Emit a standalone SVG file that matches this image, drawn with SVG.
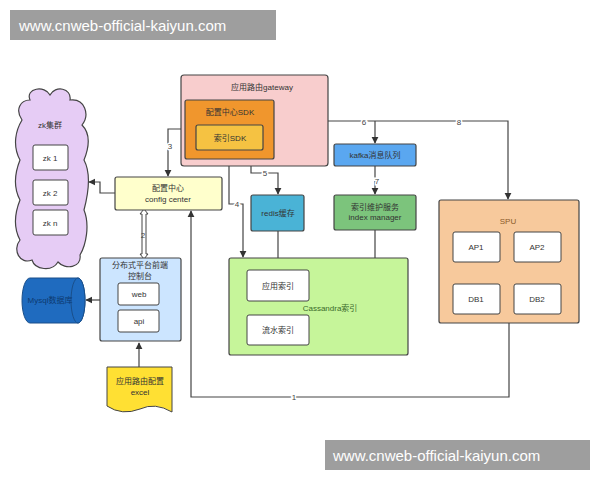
<svg xmlns="http://www.w3.org/2000/svg" width="600" height="480" viewBox="0 0 600 480">
<defs>
<marker id="ah" viewBox="0 0 10 10" refX="9" refY="5" markerWidth="6" markerHeight="6" orient="auto"><path d="M0,0L10,5L0,10z" fill="#333"/></marker>
<style>
text{font-family:"Liberation Sans","Noto Sans CJK SC",sans-serif;font-size:8px;fill:#333;text-anchor:middle}
.b{stroke:#444;stroke-width:1.2}
.w{fill:#fff;stroke:#444;stroke-width:1}
.c{fill:none;stroke:#444;stroke-width:1.2}
.a{marker-end:url(#ah)}
.wm{fill:#9e9e9e}
.wt{fill:#fff;font-size:15px;text-anchor:start}
.lb{font-size:8px;fill:#444}
</style>
</defs>
<rect width="600" height="480" fill="#fff"/>
<g id="connectors">
<path class="c a" d="M115,193H100V182H89"/>
<path class="c a" d="M185,129H168V176"/>
<text class="lb" x="170" y="149" style="fill:#444;paint-order:stroke;stroke:#fff;stroke-width:3px">3</text>
<path d="M140,214l4,-5l4,5h-2v40h2l-4,5l-4,-5h2v-40z" fill="#fff" stroke="#444"/>
<text class="lb" x="143" y="238">2</text>
<path class="c a" d="M100,300H86"/>
<path class="c a" d="M139,367V343"/>
<path class="c a" d="M509,323V397H191V211"/>
<text class="lb" x="294" y="400" style="paint-order:stroke;stroke:#fff;stroke-width:3px">1</text>
<path class="c a" d="M229,150V204H243V257"/>
<text class="lb" x="237" y="207" style="paint-order:stroke;stroke:#fff;stroke-width:3px">4</text>
<path class="c a" d="M251,150V173H278V194"/>
<text class="lb" x="265" y="176" style="paint-order:stroke;stroke:#fff;stroke-width:3px">5</text>
<path class="c a" d="M278,231V269"/>
<path class="c a" d="M328,121H508V199"/>
<path class="c a" d="M375,121V143"/>
<text class="lb" x="364" y="125" style="paint-order:stroke;stroke:#fff;stroke-width:3px">6</text>
<text class="lb" x="459" y="125" style="paint-order:stroke;stroke:#fff;stroke-width:3px">8</text>
<path class="c a" d="M375,166V194"/>
<text class="lb" x="377" y="184" style="paint-order:stroke;stroke:#fff;stroke-width:3px">7</text>
<path class="c a" d="M375,230V330H310"/>
<path class="c a" d="M476,262V283"/>
<path class="c a" d="M537,262V283"/>
</g>
<g id="gateway"><rect x="181" y="75" width="147" height="91" rx="3" fill="#f8cdcd" class="b"/><text x="262" y="90">应用路由gateway</text></g>
<g id="sdk"><rect x="185" y="100" width="89" height="59" rx="2" fill="#f0962d" class="b"/><text x="230" y="115">配置中心SDK</text></g>
<g id="idxsdk"><rect x="196" y="125" width="67" height="25" rx="2" fill="#f5c242" class="b"/><text x="230" y="141">索引SDK</text></g>
<g id="zk">
<path d="M30,100C25,88 45,85 50,95C55,85 72,88 70,100C85,98 90,115 82,125C92,135 88,150 84,160C92,175 88,195 84,210C90,225 86,245 80,255C82,268 65,270 58,262C52,272 35,270 32,260C20,265 12,250 20,240C12,225 16,210 20,200C12,185 16,170 20,160C12,145 16,130 22,120C15,110 20,100 30,100Z" fill="#e6ccf5" stroke="#444" stroke-width="1.2"/>
<text x="50" y="128">zk集群</text>
<rect x="33" y="145" width="35" height="25" rx="2" class="w"/><text x="50" y="161">zk 1</text>
<rect x="33" y="180" width="35" height="25" rx="2" class="w"/><text x="50" y="196">zk 2</text>
<rect x="33" y="210" width="35" height="25" rx="2" class="w"/><text x="50" y="226">zk n</text>
</g>
<g id="config"><rect x="115" y="177" width="107" height="33" rx="2" fill="#ffffcc" class="b"/><text x="168" y="191">配置中心</text><text x="168" y="202">config center</text></g>
<g id="platform"><rect x="100" y="258" width="81" height="83" rx="2" fill="#cce5ff" class="b"/><text x="140" y="268">分布式平台前端</text><text x="140" y="279">控制台</text>
<rect x="118" y="283" width="41" height="22" rx="2" class="w"/><text x="139" y="297">web</text>
<rect x="118" y="310" width="41" height="22" rx="2" class="w"/><text x="139" y="324">api</text></g>
<g id="mysql"><path d="M30,278H78A7,22.5 0 0 1 78,323H30A8,22.5 0 0 1 30,278Z" fill="#1f6bbf" stroke="#1a4f8a"/><ellipse cx="78" cy="300.5" rx="7" ry="22.5" fill="#1f6bbf" stroke="#1a4f8a"/><text x="50" y="303" style="fill:#0d3a70">Mysql数据库</text></g>
<g id="excel"><path d="M107,367H172V412Q155,402 140,409Q122,416 107,406Z" fill="#ffe033" stroke="#444"/><text x="140" y="384">应用路由配置</text><text x="140" y="395">excel</text></g>
<g id="redis"><rect x="251" y="195" width="53" height="36" rx="2" fill="#4ab3d6" class="b"/><text x="278" y="216">redis缓存</text></g>
<g id="kafka"><rect x="334" y="144" width="82" height="22" rx="2" fill="#5aa7f0" class="b"/><text x="375" y="158">kafka消息队列</text></g>
<g id="indexmgr"><rect x="334" y="195" width="82" height="35" rx="2" fill="#7cc47c" class="b"/><text x="375" y="210">索引维护服务</text><text x="375" y="220">index manager</text></g>
<g id="cassandra"><rect x="229" y="258" width="179" height="97" rx="2" fill="#c6f59a" class="b"/><text x="330" y="311" style="fill:#3a6a2a">Cassandra索引</text>
<rect x="247" y="270" width="62" height="31" rx="2" class="w"/><text x="278" y="289">应用索引</text>
<rect x="247" y="315" width="62" height="30" rx="2" class="w"/><text x="278" y="333">流水索引</text></g>
<g id="spu"><rect x="439" y="200" width="140" height="123" rx="2" fill="#f7c99c" class="b"/><text x="508" y="224" style="fill:#8a5a2a">SPU</text>
<rect x="453" y="232" width="47" height="30" rx="2" class="w"/><text x="476" y="250">AP1</text>
<rect x="514" y="232" width="47" height="30" rx="2" class="w"/><text x="537" y="250">AP2</text>
<rect x="453" y="284" width="47" height="30" rx="2" class="w"/><text x="476" y="302">DB1</text>
<rect x="514" y="284" width="47" height="30" rx="2" class="w"/><text x="537" y="302">DB2</text></g>
<rect class="wm" x="10" y="10" width="266" height="30"/><text class="wt" x="19" y="31">www.cnweb-official-kaiyun.com</text>
<rect class="wm" x="325" y="440" width="265" height="30"/><text class="wt" x="333" y="461">www.cnweb-official-kaiyun.com</text>
</svg>
